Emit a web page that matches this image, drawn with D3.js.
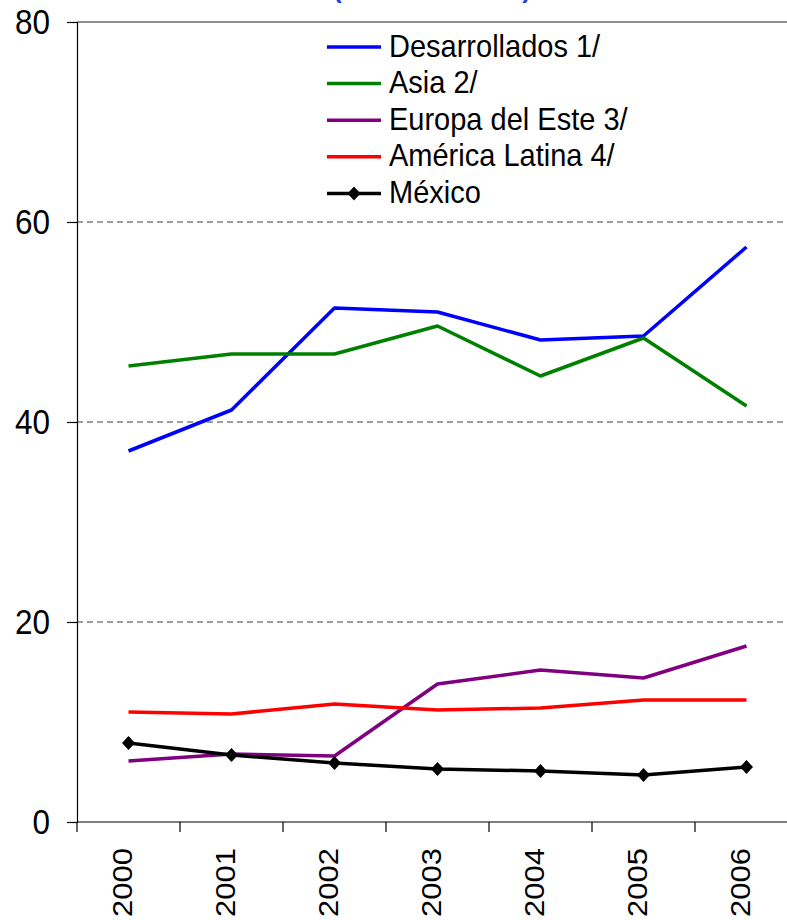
<!DOCTYPE html>
<html>
<head>
<meta charset="utf-8">
<script src="https://cdn.jsdelivr.net/npm/d3@7"></script>
<style>
  html, body { margin: 0; padding: 0; background: #fff; }
  svg { display: block; }
  text { font-family: "Liberation Sans", Arial, sans-serif; }
</style>
</head>
<body>
<svg id="chart" width="787" height="920"></svg>
<script>
const years = ["2000", "2001", "2002", "2003", "2004", "2005", "2006"];
const yTicks = [0, 20, 40, 60, 80];
const titleText = "(% del total)";

const desarrollados = [37.1, 41.2, 51.4, 51.0, 48.2, 48.6, 57.5];
const asia = [45.6, 46.8, 46.8, 49.6, 44.6, 48.4, 41.6];
const europaEste = [6.1, 6.8, 6.6, 13.8, 15.2, 14.4, 17.6];
const americaLatina = [11.0, 10.8, 11.8, 11.2, 11.4, 12.2, 12.2];
const mexico = [7.9, 6.7, 5.9, 5.3, 5.1, 4.7, 5.5];

const seriesNames = ["Desarrollados 1/", "Asia 2/", "Europa del Este 3/", "América Latina 4/", "México"];
const seriesValues = [desarrollados, asia, europaEste, americaLatina, mexico];
const seriesColors = ["#0000FF", "#008000", "#800080", "#FF0000", "#000000"];
const seriesMarkers = [false, false, false, false, true];

const svg = d3.select("#chart");
const mLeft = 77, mRight = 798, mTop = 22, mBottom = 822;

const x = d3.scaleBand().domain(years).range([mLeft, mRight]).paddingInner(0).paddingOuter(0);
const y = d3.scaleLinear().domain([0, 80]).range([mBottom, mTop]);

// title (mostly cut off above, as in the original)
svg.append("text")
  .attr("x", 432).attr("y", -2)
  .attr("text-anchor", "middle")
  .attr("font-size", 26).attr("font-weight", "bold")
  .attr("fill", "#1F3FDF")
  .attr("textLength", 198).attr("lengthAdjust", "spacing")
  .text(titleText);

// gridlines
svg.append("g").selectAll("line")
  .data(yTicks.filter(d => d > 0 && d < 80))
  .join("line")
  .attr("x1", mLeft).attr("x2", 787)
  .attr("y1", d => y(d)).attr("y2", d => y(d))
  .attr("stroke", "#808080").attr("stroke-width", 1.3)
  .attr("stroke-dasharray", "6,4");
svg.append("line")
  .attr("x1", mLeft).attr("x2", 787)
  .attr("y1", y(80)).attr("y2", y(80))
  .attr("stroke", "#222").attr("stroke-width", 1.2);

// y axis
const yAxis = d3.axisLeft(y).tickValues(yTicks).tickSize(10).tickPadding(17).tickFormat(d3.format("d"));
const gy = svg.append("g").attr("transform", `translate(${mLeft},0)`).call(yAxis);
gy.select(".domain").attr("stroke", "#000").attr("stroke-width", 1.2);
gy.selectAll(".tick line").attr("stroke", "#000").attr("stroke-width", 1.2);
gy.selectAll(".tick text").attr("font-size", 31.5).attr("fill", "#000")
  .attr("font-family", "Liberation Sans, Arial, sans-serif")
  .attr("transform", "scale(1,1.11)");

// x axis: ticks at band boundaries
const xEdges = d3.scaleLinear().domain([0, years.length]).range([mLeft, mRight]);
svg.append("line")
  .attr("x1", mLeft).attr("x2", 787)
  .attr("y1", mBottom).attr("y2", mBottom)
  .attr("stroke", "#000").attr("stroke-width", 1.2);
svg.append("g").selectAll("line")
  .data(d3.range(years.length + 1))
  .join("line")
  .attr("x1", d => xEdges(d)).attr("x2", d => xEdges(d))
  .attr("y1", mBottom).attr("y2", mBottom + 10)
  .attr("stroke", "#000").attr("stroke-width", 1.2);
svg.append("g").selectAll("text")
  .data(years)
  .join("text")
  .attr("transform", d => `translate(${x(d) + x.bandwidth() / 2 + 3.5},${mBottom + 26}) scale(0.87,1) rotate(-90)`)
  .attr("text-anchor", "end")
  .attr("font-size", 31)
  .attr("fill", "#000")
  .text(d => d);

// lines
const line = d3.line()
  .x((d, i) => x(years[i]) + x.bandwidth() / 2)
  .y(d => y(d));

const diamond = "M0,-7L6.5,0L0,7L-6.5,0Z";

seriesValues.forEach((vals, k) => {
  svg.append("path")
    .datum(vals)
    .attr("d", line)
    .attr("fill", "none")
    .attr("stroke", seriesColors[k])
    .attr("stroke-width", 3.5)
    .attr("stroke-linejoin", "round");
  if (seriesMarkers[k]) {
    svg.append("g").selectAll("path")
      .data(vals)
      .join("path")
      .attr("d", diamond)
      .attr("transform", (d, i) => `translate(${x(years[i]) + x.bandwidth() / 2},${y(d)})`)
      .attr("fill", seriesColors[k]);
  }
});

// legend
const legend = svg.append("g");
seriesNames.forEach((name, k) => {
  const cy = 47 + k * 36.6;
  legend.append("line")
    .attr("x1", 327).attr("x2", 381)
    .attr("y1", cy).attr("y2", cy)
    .attr("stroke", seriesColors[k]).attr("stroke-width", 3.5);
  if (seriesMarkers[k]) {
    legend.append("path").attr("d", diamond)
      .attr("transform", `translate(354,${cy})`)
      .attr("fill", seriesColors[k]);
  }
  legend.append("text")
    .attr("transform", `translate(389,${cy + 9.5}) scale(1,1.09)`)
    .attr("font-size", 29)
    .attr("fill", "#000")
    .text(name);
});
</script>
</body>
</html>
